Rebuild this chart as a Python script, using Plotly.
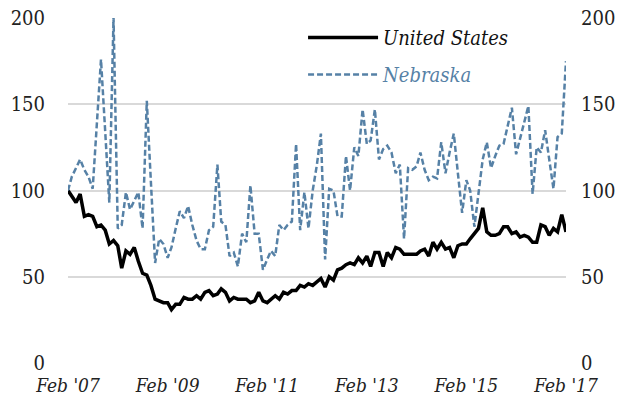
import pandas as pd
import plotly.graph_objects as go

# Monthly index values, Feb 2007 = 100
months = pd.date_range("2007-02-01", periods=121, freq="MS")

united_states = [
    100, 97, 93, 98, 85, 86, 85, 79, 80, 77, 69, 71, 68, 55, 65, 63, 67, 59, 52, 51, 45, 37, 36, 35, 35, 31, 34,
    34, 38, 37, 37, 39, 37, 41, 42, 39, 40, 43, 41, 36, 38, 37, 37, 37, 35, 36, 41, 36, 35, 37, 39, 37, 41, 40, 42, 42, 45, 44,
    46, 45, 47, 49, 44, 50, 48, 54, 55, 57, 58, 57, 61, 58, 62, 56, 64, 64, 56, 64, 61, 67,
    66, 63, 63, 63, 63, 65, 66, 62, 70, 66, 70, 66, 67, 61, 68, 69, 69, 72, 75,
    78, 90, 76, 74, 74, 75, 79, 79, 75, 76, 73, 74, 73, 70, 70, 80, 79, 74, 78, 76, 86, 76,
]

nebraska = [
    100, 108, 113, 118, 112, 108, 101, 140, 176, 134, 93, 200,
    78, 80, 99, 89, 94, 99, 78, 152, 105, 58, 72, 69, 61, 67, 78, 88, 84, 91,
    80, 71, 66, 66, 77, 79, 115, 82, 80, 62, 64, 56, 75, 70, 103, 75, 75, 54, 60, 65,
    62, 80, 77, 80, 82, 127, 77, 99, 78, 100, 115, 133, 60, 101, 100, 85, 85, 120, 100, 125,
    120, 147, 127, 129, 147, 118, 124, 126, 122, 110, 115, 72, 113, 112, 114, 122, 112, 106, 108, 107,
    128, 110, 122, 133, 110, 87, 106, 100, 79, 97, 118, 128, 113, 120, 126, 127, 138, 148, 121, 130,
    140, 149, 98, 125, 122, 135, 118, 101, 131, 133, 175,
]

x_tick_dates = ["2007-02-01", "2009-02-01", "2011-02-01", "2013-02-01", "2015-02-01", "2017-02-01"]
x_tick_labels = ["Feb '07", "Feb '09", "Feb '11", "Feb '13", "Feb '15", "Feb '17"]
y_ticks = [0, 50, 100, 150, 200]

NEB_COLOR = "#5681a6"
SERIF = "'DejaVu Serif Condensed', 'DejaVu Serif', serif"

fig = go.Figure()
fig.add_trace(go.Scatter(
    x=months, y=united_states, mode="lines", name="United States",
    line=dict(color="black", width=3.5), legendgroup="us", cliponaxis=False,
))
fig.add_trace(go.Scatter(
    x=months, y=nebraska, mode="lines",
    name=f"<span style='color:{NEB_COLOR}'>Nebraska</span>",
    line=dict(color=NEB_COLOR, width=2.5, dash="6px,3px"), legendgroup="ne",
    yaxis="y2", cliponaxis=False,
))

axis_font = dict(family=SERIF, size=20, color="#222222")

fig.update_layout(
    width=627, height=408,
    margin=dict(l=68, r=61, t=18, b=45, autoexpand=False),
    paper_bgcolor="white", plot_bgcolor="white",
    font=dict(family=SERIF),
    showlegend=True,
    legend=dict(
        x=0.472, y=1.0, xanchor="left", yanchor="top",
        font=dict(family=SERIF, size=20, color="#111111", style="italic"),
        bgcolor="rgba(0,0,0,0)", itemwidth=70,
        traceorder="grouped", tracegroupgap=8,
    ),
    xaxis=dict(
        range=["2007-02-01", "2017-02-01"],
        tickvals=x_tick_dates, ticktext=x_tick_labels,
        showgrid=False, zeroline=False, showline=False, ticks="",
        tickfont=dict(family=SERIF, size=19, color="#222222", style="italic"),
        ticklabelstandoff=9, automargin=False,
    ),
    yaxis=dict(
        range=[0, 200], tickvals=y_ticks,
        showgrid=True, gridcolor="#d9d9d9", gridwidth=1.5,
        zeroline=False, showline=False, ticks="",
        tickfont=axis_font, ticklabelstandoff=22, automargin=False,
    ),
    yaxis2=dict(
        range=[0, 200], tickvals=y_ticks, overlaying="y", side="right",
        showgrid=False, zeroline=False, showline=False, ticks="",
        tickfont=axis_font, ticklabelstandoff=14, automargin=False,
    ),
)

fig.write_html("out.html")
